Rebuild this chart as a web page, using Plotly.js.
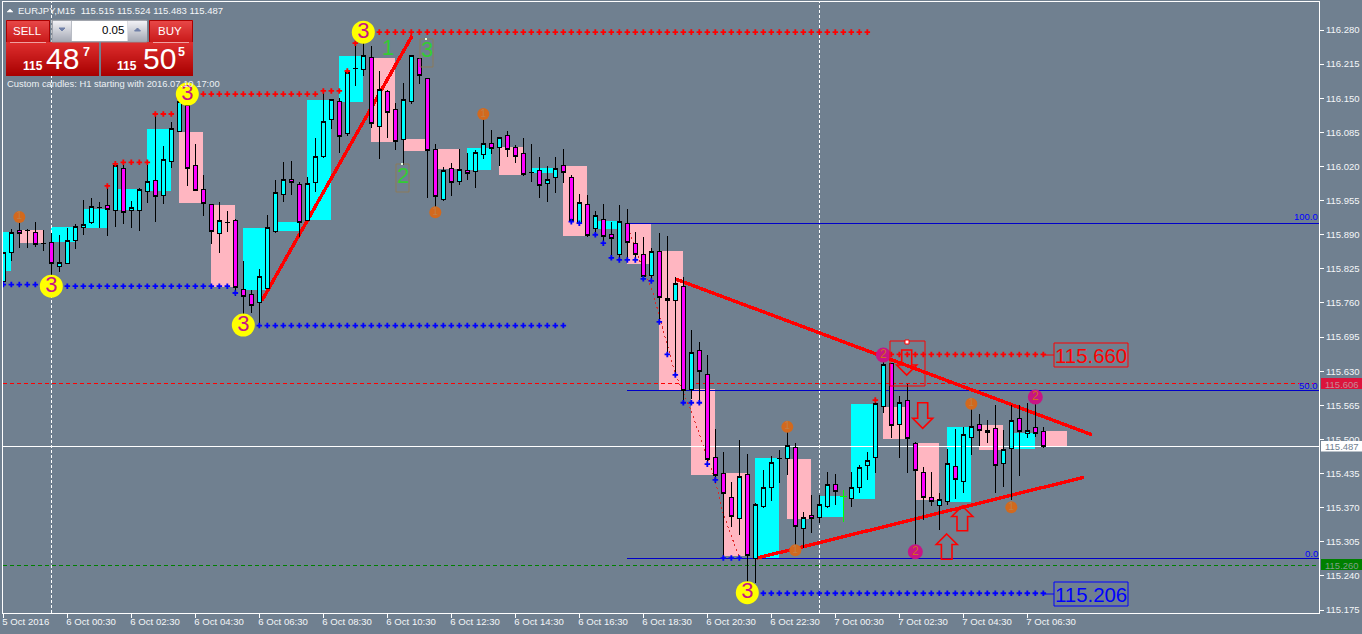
<!DOCTYPE html>
<html><head><meta charset="utf-8">
<script src="https://cdn.plot.ly/plotly-3.0.1.min.js"></script>
<style>html,body{margin:0;padding:0;background:#708090;overflow:hidden}
.scatterlayer .js-line,.boxlayer path{shape-rendering:crispEdges}</style></head>
<body><div id="chart" style="width:1362px;height:634px"></div>
<script>
// ---------- candle data (M15) ; null = bar drawn separately (green cross)
const open_=[115.800,115.857,115.899,115.899,115.895,115.874,115.876,115.830,115.836,115.880,115.903,115.914,115.941,115.945,115.937,116.017,115.937,115.937,115.973,115.994,115.964,116.029,116.086,116.137,116.021,115.977,115.947,115.893,115.914,115.918,115.785,115.777,115.760,115.787,115.897,115.966,115.996,115.985,115.918,115.990,116.040,116.110,116.143,116.082,116.206,116.204,116.227,116.097,116.162,116.128,116.072,116.143,116.225,116.187,116.053,115.958,116.017,115.992,116.013,116.010,116.042,116.063,116.057,116.080,116.057,116.044,116.008,116.013,115.987,116.000,116.021,116.000,115.912,115.947,115.901,115.920,115.891,115.853,115.912,115.874,115.853,115.813,115.859,115.768,115.764,115.792,115.596,115.670,115.623,115.465,115.436,115.389,115.350,115.434,115.274,115.373,115.408,115.463,115.463,115.484,115.331,115.356,115.352,115.373,115.415,null,115.387,115.408,115.450,115.465,115.562,115.644,115.528,115.575,115.493,115.438,115.390,115.375,115.381,115.448,115.419,115.503,115.528,115.514,115.520,115.455,115.482,115.539,115.512,115.522,115.515];
const high_=[115.857,115.901,115.928,115.901,115.914,115.899,115.893,115.890,115.903,115.910,115.956,115.960,115.952,115.983,116.027,116.027,115.954,115.979,116.027,116.120,116.059,116.105,116.151,116.156,116.063,116.004,115.949,115.952,115.935,115.920,115.840,115.785,115.825,115.928,115.994,116.029,116.030,115.990,116.000,116.074,116.162,116.147,116.151,116.204,116.255,116.274,116.250,116.202,116.166,116.141,116.179,116.231,116.227,116.187,116.063,116.019,116.027,116.053,116.046,116.051,116.120,116.090,116.076,116.088,116.061,116.074,116.063,116.038,116.021,116.038,116.053,116.004,115.968,115.966,115.935,115.949,115.914,115.947,115.939,115.895,115.886,115.865,115.893,115.888,115.810,115.810,115.709,115.686,115.661,115.520,115.476,115.419,115.499,115.472,115.379,115.442,115.469,115.480,115.524,115.493,115.362,115.394,115.394,115.438,115.434,null,115.438,115.451,115.476,115.579,115.659,115.646,115.583,115.606,115.495,115.448,115.438,115.398,115.482,115.520,115.524,115.568,115.549,115.537,115.566,115.518,115.566,115.566,115.570,115.579,115.524];
const low_=[115.800,115.840,115.865,115.865,115.867,115.859,115.789,115.819,115.836,115.863,115.890,115.910,115.903,115.888,115.905,115.910,115.903,115.897,115.950,115.914,115.949,116.017,116.086,115.983,115.973,115.926,115.872,115.855,115.895,115.773,115.718,115.741,115.718,115.787,115.893,115.952,115.966,115.886,115.918,115.971,116.036,116.092,116.046,116.078,116.173,116.192,116.093,116.034,116.074,116.051,116.023,116.139,116.177,115.960,115.939,115.954,115.964,115.985,115.994,115.979,116.034,116.044,116.021,116.038,116.027,116.002,115.990,115.960,115.952,115.970,115.989,115.912,115.910,115.886,115.888,115.872,115.846,115.842,115.842,115.842,115.804,115.800,115.722,115.661,115.623,115.570,115.577,115.570,115.453,115.417,115.274,115.333,115.318,115.208,115.227,115.370,115.383,115.417,115.432,115.289,115.293,115.322,115.341,115.370,115.375,null,115.371,115.398,115.423,115.436,115.550,115.503,115.465,115.436,115.286,115.347,115.373,115.328,115.375,115.387,115.398,115.470,115.488,115.493,115.398,115.409,115.385,115.430,115.503,115.505,115.483];
const close_=[115.857,115.895,115.893,115.899,115.872,115.874,115.836,115.838,115.880,115.905,115.909,115.943,115.941,115.939,116.021,115.933,115.941,115.977,115.992,115.962,116.034,116.092,116.143,116.017,115.975,115.950,115.897,115.918,115.914,115.790,115.773,115.756,115.811,115.903,115.970,115.996,115.989,115.914,115.987,116.040,116.105,116.147,116.078,116.200,116.206,116.231,116.101,116.166,116.122,116.067,116.147,116.231,116.194,116.050,115.962,116.013,115.989,116.015,116.006,116.046,116.063,116.055,116.076,116.053,116.040,116.004,116.008,115.983,115.996,116.017,116.008,115.918,115.952,115.888,115.926,115.886,115.882,115.916,115.876,115.853,115.810,115.859,115.771,115.764,115.798,115.594,115.665,115.629,115.461,115.432,115.398,115.354,115.430,115.278,115.377,115.409,115.457,115.463,115.488,115.335,115.352,115.349,115.377,115.415,115.400,null,115.409,115.446,115.459,115.568,115.642,115.526,115.571,115.501,115.440,115.389,115.381,115.385,115.455,115.423,115.509,115.524,115.518,115.518,115.451,115.480,115.537,115.516,115.518,115.512,115.487];
const barIndex=open_.map((_,k)=>k);
// green cross bar
const crossBar=105, crossHigh=115.404, crossLow=115.343, crossLevel=115.392;

// ---------- H1 custom candles: first M15 bar, top, bottom
const h1Cyan=[[-2,115.895,115.821],[6,115.905,115.876],[10,115.939,115.903],[14,115.977,115.937],[18,116.092,115.973],[30,115.903,115.785],[34,115.914,115.897],[38,116.147,115.918],[42,116.231,116.143],[58,116.055,116.013],[66,116.017,116.008],[74,115.916,115.901],[94,115.465,115.274],[102,115.392,115.352],[106,115.568,115.387],[118,115.524,115.381],[126,115.512,115.482]];
const h1Pink=[[2,115.899,115.874],[22,116.086,115.950],[26,115.947,115.790],[46,116.227,116.067],[50,116.072,116.050],[54,116.053,116.015],[62,116.057,116.004],[70,116.021,115.888],[78,115.912,115.834],[82,115.859,115.594],[86,115.596,115.432],[90,115.436,115.278],[98,115.463,115.349],[110,115.562,115.501],[114,115.493,115.385],[122,115.528,115.480],[130,115.516,115.488]];

// ---------- dotted indicator runs: first bar, last bar, price
const redRuns=[[13,13,115.983],[14,14,116.025],[15,18,116.028],[19,21,116.120],[22,22,116.151],[23,39,116.158],[40,42,116.164],[43,43,116.202],[44,44,116.255],[45,108,116.276],[109,109,115.575],[110,130,115.662]];
const blueRuns=[[0,5,115.795],[6,28,115.792],[29,29,115.779],[30,70,115.717],[71,71,115.915],[72,72,115.912],[74,74,115.890],[75,75,115.874],[76,76,115.846],[77,79,115.842],[80,80,115.806],[81,81,115.802],[82,82,115.724],[83,83,115.662],[84,84,115.623],[85,87,115.570],[88,88,115.453],[89,89,115.423],[90,92,115.274],[93,130,115.207]];

// ---------- trend lines
const trend1X=[32.3,51.1],  trend1Y=[115.764,116.269];
const trend2X=[83.96,136.08],trend2Y=[115.806,115.509];
const trend3X=[94.2,135.08], trend3Y=[115.274,115.428];
const zigX=[78.3,79.5,81.1,82.1,83.96,86.1,88.96,89.96,91.96];
const zigY=[115.895,115.842,115.785,115.728,115.627,115.550,115.423,115.360,115.276];

// ---------- numbered circles
const yellowX=[6,23,45,30,93],      yellowY=[115.792,116.158,116.276,115.718,115.208];
const orangeX=[2,60,54,98,99,121,126], orangeY=[115.924,116.120,115.933,115.524,115.289,115.568,115.371];
const purpleX=[110,114,129],        purpleY=[115.661,115.286,115.581];
const greenX=[48.1,49.96,52.96],    greenY=[116.242,116.000,116.240], greenLabels=['1','2','3'];

// ---------- levels
const bidPrice=115.487, redLevel=115.606, greenLevel=115.260;
const fibStartBar=78, fibPrices=[115.912,115.593,115.274], fibLabels=['100.0','50.0','0.0'];
const sessionBars=[6,102];

// ---------- axes
const xTickBars=[0,8,16,24,32,40,48,56,64,72,80,88,96,104,112,120,128];
const xTickLabels=['5 Oct 2016','6 Oct 00:30','6 Oct 02:30','6 Oct 04:30','6 Oct 06:30','6 Oct 08:30','6 Oct 10:30','6 Oct 12:30','6 Oct 14:30','6 Oct 16:30','6 Oct 18:30','6 Oct 20:30','6 Oct 22:30','7 Oct 00:30','7 Oct 02:30','7 Oct 04:30','7 Oct 06:30'];
const yTicks=[116.280,116.215,116.150,116.085,116.020,115.955,115.890,115.825,115.760,115.695,115.630,115.565,115.500,115.435,115.370,115.305,115.240,115.175];
const yTickLabels=yTicks.map(v=>v.toFixed(3));

// ---------- layout constants
const W=1362,H=634,L=3,R=1319,T=2,B=613;
const XR=[-0.04,164.46], YR=[115.1694,116.3334];
const BG='#708090', SANS='"Liberation Sans",sans-serif', NARROW=SANS;
const px=x=>(x-L)/(R-L), py=y=>1-(y-T)/(B-T);

const shapes=[],annotations=[];
function rect(x0,y0,x1,y1,fill,line,lw){shapes.push({type:'rect',xref:'paper',yref:'paper',x0:px(x0),x1:px(x1),y0:py(y0),y1:py(y1),fillcolor:fill||'rgba(0,0,0,0)',line:{color:line||'rgba(0,0,0,0)',width:line?(lw||1):0},layer:'above'});}
function hex(c){return [1,3,5].map(k=>parseInt(c.substr(k,2),16));}
function grad(x0,y0,x1,y1,c0,c1){const a=hex(c0),b=hex(c1),n=y1-y0;for(let k=0;k<n;k++){const t=k/(n-1||1);const c=a.map((v,j)=>Math.round(v+(b[j]-v)*t));rect(x0,y0+k,x1,y0+k+1,`rgb(${c})`);}}
function text(x,y,s,size,color,anchor,family,yanchor){annotations.push({xref:'paper',yref:'paper',x:px(x),y:py(y),text:s,showarrow:false,font:{size,color,family:family||NARROW},xanchor:anchor||'left',yanchor:yanchor||'middle',borderpad:0,borderwidth:0});}
function poly(points,color,lw,fill){const d=points.map((p,k)=>(k?'L':'M')+px(p[0])+','+py(p[1])).join(' ')+' Z';shapes.push({type:'path',xref:'paper',yref:'paper',path:d,line:{color,width:lw},fillcolor:fill||'rgba(0,0,0,0)',layer:'above'});}

// hollow arrows and selection box
function downArrow(cx,top,tip){poly([[cx-5,top],[cx+5,top],[cx+5,tip-10],[cx+10,tip-10],[cx,tip],[cx-10,tip-10],[cx-5,tip-10]],'#FF0000',1.6);}
function upArrow(cx,tip,bot){poly([[cx,tip],[cx+10.5,tip+10.5],[cx+5.3,tip+10.5],[cx+5.3,bot],[cx-5.3,bot],[cx-5.3,tip+10.5],[cx-10.5,tip+10.5]],'#FF0000',1.6);}
rect(890,341,925,386,null,'#FF0000',1);
downArrow(906.7,350,375);downArrow(922.7,402.7,428.3);upArrow(962.3,506,530.7);upArrow(946.7,534,559.3);
rect(905,340,909,344,'#FFFFFF','#FF0000',1);
// wave-label frames
rect(396,164,409,192,null,'#8B7B5B',1);rect(420,39,433,67,null,'#8B7B5B',1);
rect(401,163,403,165,'#E0FFE0');rect(425,38,427,40,'#E0FFE0');

// level boxes
rect(1054,343,1128,367,null,'#FF0000',1);
rect(1043,354.5,1054,355.5,'#FF0000');
text(1091,355.5,'115.660',20.4,'#FF0000','center');
rect(1054,582,1128,606,null,'#0000FF',1);
rect(1043,593.5,1054,594.5,'#0000FF');
text(1091,594.5,'115.206',20.4,'#0000FF','center');

// price tags
rect(1321,378,1362,389,'#DC143C');text(1325,384,'115.606',9.5,'#C88A98');
rect(1321,441,1362,451.5,'#FFFFFF');text(1325,446.5,'115.487',9.5,'#708090');
rect(1321,559,1362,570,'#008000');text(1325,565,'115.260',9.5,'#7FA08A');
// fib labels
const fibY=[217,385,553], fibRight=[1318,1318,1318];
fibLabels.forEach((s,k)=>text(fibRight[k],fibY[k],s,9.5,'#0000FF','right'));

// trade panel
grad(6,20,50,43,'#E84848','#C81818');rect(6.5,20.5,49.5,43.5,null,'#AA0000',1);
grad(149,20,193,43,'#E84848','#C81818');rect(149.5,20.5,192.5,43.5,null,'#AA0000',1);
grad(6,42,99,76,'#DE2E2E','#A80000');
grad(101,42,193,76,'#DE2E2E','#A80000');
rect(10,42,46,43,'#F0A0A0');rect(153,42,189,43,'#F0A0A0');
rect(52,20,147,42,'#B8BCC4','#8A8E96',1);
grad(53,21,71,41,'#F0F0F4','#A8ACB8');grad(128,21,147,41,'#F0F0F4','#A8ACB8');
rect(72,21,127.5,41,'#FFFFFF');
poly([[59,28],[65,28],[62,31]],'#7080A8',1,'#7080A8');
poly([[134.5,31],[140.5,31],[137.5,28]],'#7080A8',1,'#7080A8');
text(27,31,'SELL',11.5,'#FFFFFF','center');
text(170,31,'BUY',11.5,'#FFFFFF','center');
text(124,30,'0.05',11.5,'#000000','right',SANS);
text(33,66,'<b>115</b>',12,'#FFFFFF','center',SANS);
text(62.5,59,'48',30,'#FFFFFF','center',SANS);
text(86.5,51.5,'<b>7</b>',12.5,'#FFFFFF','center',SANS);
text(127,66,'<b>115</b>',12,'#FFFFFF','center',SANS);
text(159,59,'50',30,'#FFFFFF','center',SANS);
text(181,51.5,'<b>5</b>',12.5,'#FFFFFF','center',SANS);
// header
poly([[7,12],[13,12],[10,9]],'#FFFFFF',0.5,'#FFFFFF');
text(18,10.5,'EURJPY,M15&nbsp;&nbsp;115.515 115.524 115.483 115.487',9.5,'#F4F6F8');
text(7,83.5,'Custom candles: H1 starting with 2016.07.10 17:00',9.4,'#ECF0F4');

// traces
function expand(runs){const xs=[],ys=[];runs.forEach(r=>{for(let b=r[0];b<=r[1];b++){xs.push(b);ys.push(r[2]);}});return[xs,ys];}
function h1Trace(list,color){return{type:'bar',x:list.map(r=>r[0]+1.5),y:list.map(r=>r[1]-r[2]),base:list.map(r=>r[2]),width:list.map(()=>3),marker:{color,line:{width:0}},xaxis:'x',yaxis:'y',hoverinfo:'skip'};}
function lineTrace(xs,ys,color,width,dash,axis){return{type:'scatter',mode:'lines',x:xs,y:ys,line:{color,width,dash:dash||'solid',shape:'linear'},xaxis:axis?'x2':'x',yaxis:axis?'y2':'y',hoverinfo:'skip'};}
function dotTrace(runs,color){const e=expand(runs);return{type:'scatter',mode:'markers',x:e[0],y:e[1],marker:{symbol:'cross',size:4.6,color,line:{width:0}},xaxis:'x2',yaxis:'y2',hoverinfo:'skip'};}
function circleTrace(xs,ys,size,color,label,tsize,tcolor){return{type:'scatter',mode:'markers+text',x:xs,y:ys,marker:{size,color,line:{width:0}},text:xs.map(()=>label),textposition:'middle center',textfont:{size:tsize,color:tcolor,family:SANS},xaxis:'x2',yaxis:'y2',hoverinfo:'skip'};}

const traces=[
 h1Trace(h1Cyan,'#00FFFF'),h1Trace(h1Pink,'#FFB6C1'),
 lineTrace([sessionBars[0],sessionBars[0]],[YR[0],YR[1]],'#FFFFFF',1,'3px,2px'),
 lineTrace([sessionBars[1],sessionBars[1]],[YR[0],YR[1]],'#FFFFFF',1,'3px,2px'),
 lineTrace([XR[0],XR[1]],[redLevel,redLevel],'#FF0000',1,'4px,3px'),
 lineTrace([XR[0],XR[1]],[greenLevel,greenLevel],'#008000',1,'4px,3px'),
 lineTrace([XR[0],XR[1]],[bidPrice,bidPrice],'#FFFFFF',1),
 lineTrace([fibStartBar,XR[1]],[fibPrices[0],fibPrices[0]],'#0000C8',1),
 lineTrace([fibStartBar,XR[1]],[fibPrices[1],fibPrices[1]],'#0000C8',1),
 lineTrace([fibStartBar,XR[1]],[fibPrices[2],fibPrices[2]],'#0000C8',1),
 lineTrace(trend1X,trend1Y,'#FF0000',3.4),
 lineTrace(trend2X,trend2Y,'#FF0000',3.4),
 lineTrace(trend3X,trend3Y,'#FF0000',3.4),
 lineTrace(zigX,zigY,'#E02828',1,'2px,3px'),
 {type:'candlestick',x:barIndex,open:open_,high:high_,low:low_,close:close_,whiskerwidth:0,xaxis:'x2',yaxis:'y2',
  increasing:{fillcolor:'#00FFFF',line:{color:'#000000',width:1}},decreasing:{fillcolor:'#FF00FF',line:{color:'#000000',width:1}},hoverinfo:'skip'},
 lineTrace([crossBar,crossBar],[crossLow,crossHigh],'#00FF00',1,null,true),
 lineTrace([crossBar-0.4,crossBar+0.4],[crossLevel,crossLevel],'#00FF00',1,null,true),
 dotTrace(redRuns,'#FF0000'),dotTrace(blueRuns,'#0000FF'),
 circleTrace(yellowX,yellowY,23,'#FFFF00','3',22,'#C71585'),
 circleTrace(orangeX,orangeY,12,'#D2691E','1',10,'#C08048'),
 circleTrace(purpleX,purpleY,15,'#C71585','2',12,'#D2691E'),
 {type:'scatter',mode:'text',x:greenX,y:greenY,text:greenLabels,textposition:'middle center',textfont:{size:22,color:'#32CD32',family:SANS},xaxis:'x2',yaxis:'y2',hoverinfo:'skip'}
];

const layout={
 width:W,height:H,margin:{l:L,r:W-R,t:T,b:H-B,pad:0},paper_bgcolor:BG,plot_bgcolor:BG,showlegend:false,
 barmode:'overlay',bargap:0,boxmode:'overlay',boxgap:0.42,boxgroupgap:0,
 xaxis:{range:XR,fixedrange:true,showgrid:false,zeroline:false,showline:true,mirror:true,linecolor:'#FFFFFF',linewidth:1,ticks:'outside',ticklen:4,tickcolor:'#FFFFFF',tickwidth:1,
  tickmode:'array',tickvals:xTickBars,ticktext:xTickLabels,tickangle:0,ticklabelposition:'outside right',ticklabelshift:-2,ticklabelstandoff:-1,tickfont:{family:NARROW,size:9.6,color:'#F4F6F8'},rangeslider:{visible:false}},
 yaxis:{range:YR,fixedrange:true,side:'right',showgrid:false,zeroline:false,showline:true,mirror:true,linecolor:'#FFFFFF',linewidth:1,ticks:'outside',ticklen:4,tickcolor:'#FFFFFF',tickwidth:1,
  tickmode:'array',tickvals:yTicks,ticktext:yTickLabels,tickfont:{family:NARROW,size:9.5,color:'#F4F6F8'}},
 xaxis2:{range:XR,overlaying:'x',visible:false,fixedrange:true,rangeslider:{visible:false}},
 yaxis2:{range:YR,overlaying:'y',side:'right',visible:false,fixedrange:true},
 shapes,annotations
};
Plotly.newPlot('chart',traces,layout,{staticPlot:true,displayModeBar:false});
</script></body></html>
